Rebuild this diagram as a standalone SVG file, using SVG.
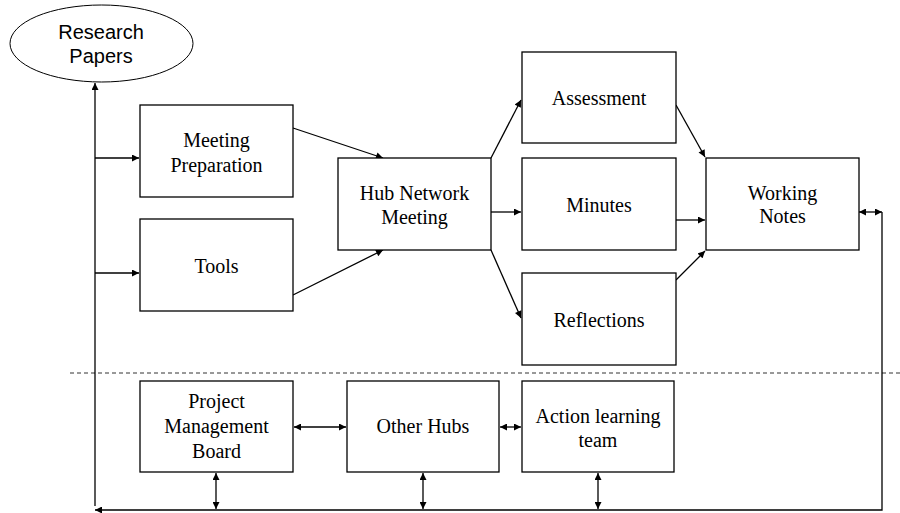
<svg xmlns="http://www.w3.org/2000/svg" width="900" height="513" viewBox="0 0 900 513">
<defs>
<marker id="ah" viewBox="0 0 10 10" refX="10" refY="5" markerWidth="8" markerHeight="7" markerUnits="userSpaceOnUse" orient="auto-start-reverse">
<path d="M0,0 L10,5 L0,10 z" fill="#000"/>
</marker>
<style>
.box{fill:#fff;stroke:#000;stroke-width:1.3}
.t{font-family:"Liberation Serif","Times New Roman",serif;font-size:20px;fill:#000;text-anchor:middle}
.s{font-family:"Liberation Sans",Arial,sans-serif;font-size:20px;fill:#000;text-anchor:middle}
.c{fill:none;stroke:#000;stroke-width:1.3}
.a{marker-end:url(#ah)}
.d{marker-start:url(#ah);marker-end:url(#ah)}
</style>
</defs>
<rect width="900" height="513" fill="#fff"/>
<g id="connectors">
<line x1="70" y1="373" x2="900" y2="373" stroke="#333" stroke-width="1" stroke-dasharray="4,3"/>
<line class="c a" x1="95" y1="506" x2="95" y2="83"/>
<line class="c a" x1="95" y1="158" x2="139" y2="158"/>
<line class="c a" x1="95" y1="273" x2="139" y2="273"/>
<line class="c a" x1="293" y1="128" x2="383" y2="158"/>
<line class="c a" x1="293" y1="295" x2="383" y2="250"/>
<line class="c a" x1="491" y1="158" x2="521" y2="100"/>
<line class="c a" x1="491" y1="212" x2="521" y2="212"/>
<line class="c a" x1="491" y1="250" x2="521" y2="318"/>
<line class="c a" x1="676" y1="105" x2="705" y2="157"/>
<line class="c a" x1="676" y1="220" x2="705" y2="220"/>
<line class="c a" x1="676" y1="280" x2="705" y2="251"/>
<line class="c d" x1="859" y1="212" x2="882" y2="212"/>
<polyline class="c a" points="882,212 882,510 95,510"/>
<line class="c d" x1="294" y1="427" x2="346" y2="427"/>
<line class="c d" x1="500" y1="427" x2="521" y2="427"/>
<line class="c d" x1="216" y1="473" x2="216" y2="509"/>
<line class="c d" x1="423" y1="473" x2="423" y2="509"/>
<line class="c d" x1="598" y1="473" x2="598" y2="509"/>
</g>
<g id="research-papers">
<ellipse cx="101.5" cy="43.5" rx="91.5" ry="38.5" fill="#fff" stroke="#000" stroke-width="1"/>
<text class="s" x="101" y="39">Research</text>
<text class="s" x="101" y="63">Papers</text>
</g>
<g id="meeting-preparation">
<rect class="box" x="140" y="105" width="153" height="92"/>
<text class="t" x="216.5" y="147">Meeting</text>
<text class="t" x="216.5" y="172">Preparation</text>
</g>
<g id="tools">
<rect class="box" x="140" y="219" width="153" height="92"/>
<text class="t" x="216.5" y="273">Tools</text>
</g>
<g id="hub-network-meeting">
<rect class="box" x="338" y="158" width="153" height="92"/>
<text class="t" x="414.5" y="200">Hub Network</text>
<text class="t" x="414.5" y="224">Meeting</text>
</g>
<g id="assessment">
<rect class="box" x="522" y="52" width="154" height="91"/>
<text class="t" x="599" y="105">Assessment</text>
</g>
<g id="minutes">
<rect class="box" x="522" y="158" width="154" height="92"/>
<text class="t" x="599" y="212">Minutes</text>
</g>
<g id="reflections">
<rect class="box" x="522" y="273" width="154" height="92"/>
<text class="t" x="599" y="327">Reflections</text>
</g>
<g id="working-notes">
<rect class="box" x="706" y="158" width="153" height="92"/>
<text class="t" x="782.5" y="200">Working</text>
<text class="t" x="782.5" y="223">Notes</text>
</g>
<g id="project-management-board">
<rect class="box" x="140" y="381" width="153" height="91"/>
<text class="t" x="216.5" y="408">Project</text>
<text class="t" x="216.5" y="433">Management</text>
<text class="t" x="216.5" y="458">Board</text>
</g>
<g id="other-hubs">
<rect class="box" x="347" y="381" width="152" height="91"/>
<text class="t" x="423" y="433">Other Hubs</text>
</g>
<g id="action-learning-team">
<rect class="box" x="522" y="381" width="152" height="91"/>
<text class="t" x="598" y="423">Action learning</text>
<text class="t" x="598" y="447">team</text>
</g>
</svg>
